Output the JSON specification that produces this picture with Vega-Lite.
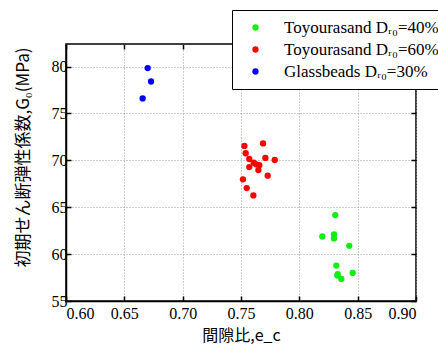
{
  "$schema": "https://vega.github.io/schema/vega-lite/v6.json",
  "autosize": {"type": "none"},
  "padding": {"left": 66, "top": 44, "right": 22, "bottom": 52},
  "width": 350,
  "height": 257,
  "background": "white",
  "config": {
    "view": {"stroke": "black", "strokeWidth": 1.5}
  },
  "data": {
    "values": [
      {"group": "Toyourasand Dᵣ₀=40%", "e": 0.8308, "G": 64.16},
      {"group": "Toyourasand Dᵣ₀=40%", "e": 0.8197, "G": 61.88},
      {"group": "Toyourasand Dᵣ₀=40%", "e": 0.8297, "G": 62.09},
      {"group": "Toyourasand Dᵣ₀=40%", "e": 0.8297, "G": 61.67},
      {"group": "Toyourasand Dᵣ₀=40%", "e": 0.8428, "G": 60.88},
      {"group": "Toyourasand Dᵣ₀=40%", "e": 0.8317, "G": 58.78},
      {"group": "Toyourasand Dᵣ₀=40%", "e": 0.8329, "G": 57.85},
      {"group": "Toyourasand Dᵣ₀=40%", "e": 0.8326, "G": 57.71},
      {"group": "Toyourasand Dᵣ₀=40%", "e": 0.8457, "G": 57.99},
      {"group": "Toyourasand Dᵣ₀=40%", "e": 0.836, "G": 57.35},
      {"group": "Toyourasand Dᵣ₀=60%", "e": 0.7529, "G": 71.53},
      {"group": "Toyourasand Dᵣ₀=60%", "e": 0.7689, "G": 71.8},
      {"group": "Toyourasand Dᵣ₀=60%", "e": 0.754, "G": 70.75},
      {"group": "Toyourasand Dᵣ₀=60%", "e": 0.7571, "G": 70.14},
      {"group": "Toyourasand Dᵣ₀=60%", "e": 0.7709, "G": 70.25},
      {"group": "Toyourasand Dᵣ₀=60%", "e": 0.7789, "G": 70.03},
      {"group": "Toyourasand Dᵣ₀=60%", "e": 0.7609, "G": 69.74},
      {"group": "Toyourasand Dᵣ₀=60%", "e": 0.7629, "G": 69.57},
      {"group": "Toyourasand Dᵣ₀=60%", "e": 0.7657, "G": 69.47},
      {"group": "Toyourasand Dᵣ₀=60%", "e": 0.7571, "G": 69.28},
      {"group": "Toyourasand Dᵣ₀=60%", "e": 0.7649, "G": 68.96},
      {"group": "Toyourasand Dᵣ₀=60%", "e": 0.7729, "G": 68.36},
      {"group": "Toyourasand Dᵣ₀=60%", "e": 0.7517, "G": 67.97},
      {"group": "Toyourasand Dᵣ₀=60%", "e": 0.7549, "G": 67.04},
      {"group": "Toyourasand Dᵣ₀=60%", "e": 0.7606, "G": 66.26},
      {"group": "Glassbeads Dᵣ₀=30%", "e": 0.670, "G": 79.83},
      {"group": "Glassbeads Dᵣ₀=30%", "e": 0.6729, "G": 78.4},
      {"group": "Glassbeads Dᵣ₀=30%", "e": 0.6657, "G": 76.6}
    ]
  },
  "resolve": {"axis": {"x": "independent", "y": "independent"}},
  "layer": [
    {
      "mark": {"type": "circle", "size": 40, "opacity": 1},
      "encoding": {
        "x": {
          "field": "e", "type": "quantitative",
          "scale": {"domain": [0.6, 0.9], "nice": false, "zero": false},
          "axis": {
            "orient": "bottom",
            "values": [0.6, 0.65, 0.7, 0.75, 0.8, 0.85, 0.9],
            "format": ".2f",
            "labelFont": "Liberation Serif", "labelFontSize": 16, "labelColor": "black",
            "labelPadding": 9,
            "tickSize": -5, "tickColor": "black", "tickWidth": 1.5,
            "domainColor": "black", "domainWidth": 1.5,
            "gridColor": "#999999", "gridDash": [1, 2], "gridWidth": 1,
            "title": "間隙比,e_c",
            "titleFont": "Noto Sans CJK JP", "titleFontSize": 16, "titleFontWeight": "normal",
            "titleColor": "black", "titlePadding": 6
          }
        },
        "y": {
          "field": "G", "type": "quantitative",
          "scale": {"domain": [55, 82.4], "nice": false, "zero": false},
          "axis": {
            "orient": "left",
            "values": [55, 60, 65, 70, 75, 80],
            "labelFont": "Liberation Serif", "labelFontSize": 16, "labelColor": "black",
            "labelPadding": 4,
            "tickSize": -5, "tickColor": "black", "tickWidth": 1.5,
            "domainColor": "black", "domainWidth": 1.5,
            "gridColor": "#999999", "gridDash": [1, 2], "gridWidth": 1,
            "title": "初期せん断弾性係数,G₀(MPa)",
            "titleFont": "Noto Sans CJK JP", "titleFontSize": 17, "titleFontWeight": "normal",
            "titleColor": "black",
            "titleX": -34, "titleY": 113, "titleAngle": -90, "titleAlign": "center", "titleBaseline": "bottom"
          }
        },
        "color": {
          "field": "group", "type": "nominal",
          "sort": ["Toyourasand Dᵣ₀=40%", "Toyourasand Dᵣ₀=60%", "Glassbeads Dᵣ₀=30%"],
          "scale": {
            "domain": ["Toyourasand Dᵣ₀=40%", "Toyourasand Dᵣ₀=60%", "Glassbeads Dᵣ₀=30%"],
            "range": ["#11ee11", "#ff0000", "#0000ff"]
          },
          "legend": {
            "title": null,
            "orient": "none",
            "legendX": 166,
            "legendY": -34,
            "fillColor": "white",
            "strokeColor": "black",
            "padding": 9,
            "symbolType": "circle",
            "symbolSize": 40,
            "symbolOffset": 6,
            "labelOffset": 20,
            "labelFont": "Liberation Serif",
            "labelFontSize": 17,
            "labelColor": "black",
            "rowPadding": 4,
            "labelLimit": 300
          }
        }
      }
    },
    {
      "mark": {"type": "circle", "opacity": 0},
      "encoding": {
        "x": {
          "field": "e", "type": "quantitative",
          "axis": {
            "orient": "top", "values": [0.6, 0.65, 0.7, 0.75, 0.8, 0.85, 0.9],
            "labels": false, "grid": false, "domain": false, "title": null,
            "tickSize": -5, "tickColor": "black", "tickWidth": 1.5
          }
        },
        "y": {
          "field": "G", "type": "quantitative",
          "axis": {
            "orient": "right", "values": [55, 60, 65, 70, 75, 80],
            "labels": false, "grid": false, "domain": false, "title": null,
            "tickSize": -5, "tickColor": "black", "tickWidth": 1.5
          }
        }
      }
    }
  ]
}
